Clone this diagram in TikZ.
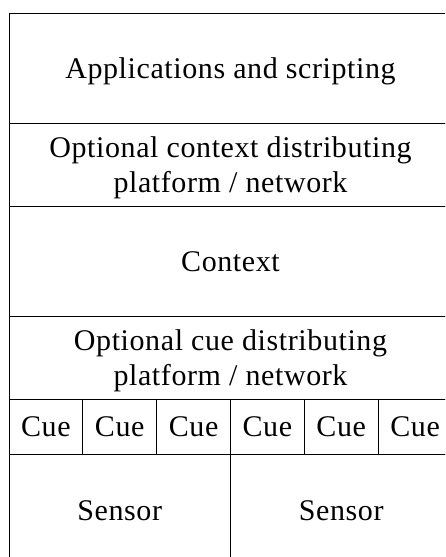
\documentclass[tikz,border=0pt]{standalone}
\usepackage{fontspec}
\setmainfont[LetterSpace=2.0]{Liberation Serif}
\begin{document}
\begin{tikzpicture}[x=1pt, y=-1pt,
  layer/.style={draw, line width=1pt, rectangle, inner sep=0pt, outer sep=0pt,
    align=center, text height=20pt, text depth=0pt,
    font=\fontsize{30}{33}\selectfont},
  twolines/.style={text height=55pt, text depth=-5pt,
    font=\fontsize{30}{35}\selectfont},
  wide/.style={layer, minimum width=443pt},
  cuebox/.style={layer, minimum width=73.833pt, minimum height=55pt},
  sensorbox/.style={layer, minimum width=221.5pt, minimum height=112pt}]
  \useasboundingbox (0,0) rectangle (445,557);
  \clip (0,0) rectangle (445,557);

  % stacked layers, top to bottom
  \node[wide, minimum height=110pt] (apps) at (230.5,68) {Applications and scripting};
  \node[wide, minimum height=83pt, twolines] (ctxnet) at (230.5,164.5)
    {Optional context distributing\\platform / network};
  \node[wide, minimum height=110pt] (ctx) at (230.5,261) {Context};
  \node[wide, minimum height=83pt, twolines] (cuenet) at (230.5,357.5)
    {Optional cue distributing\\platform / network};

  % row of cues
  \foreach \i in {0,...,5}
    \node[cuebox] (cue\i) at ({9+73.833*(\i+0.5)},426.5) {Cue};

  % sensors
  \node[sensorbox] (sensorA) at (119.75,510) {Sensor};
  \node[sensorbox] (sensorB) at (341.25,510) {Sensor};
\end{tikzpicture}
\end{document}
